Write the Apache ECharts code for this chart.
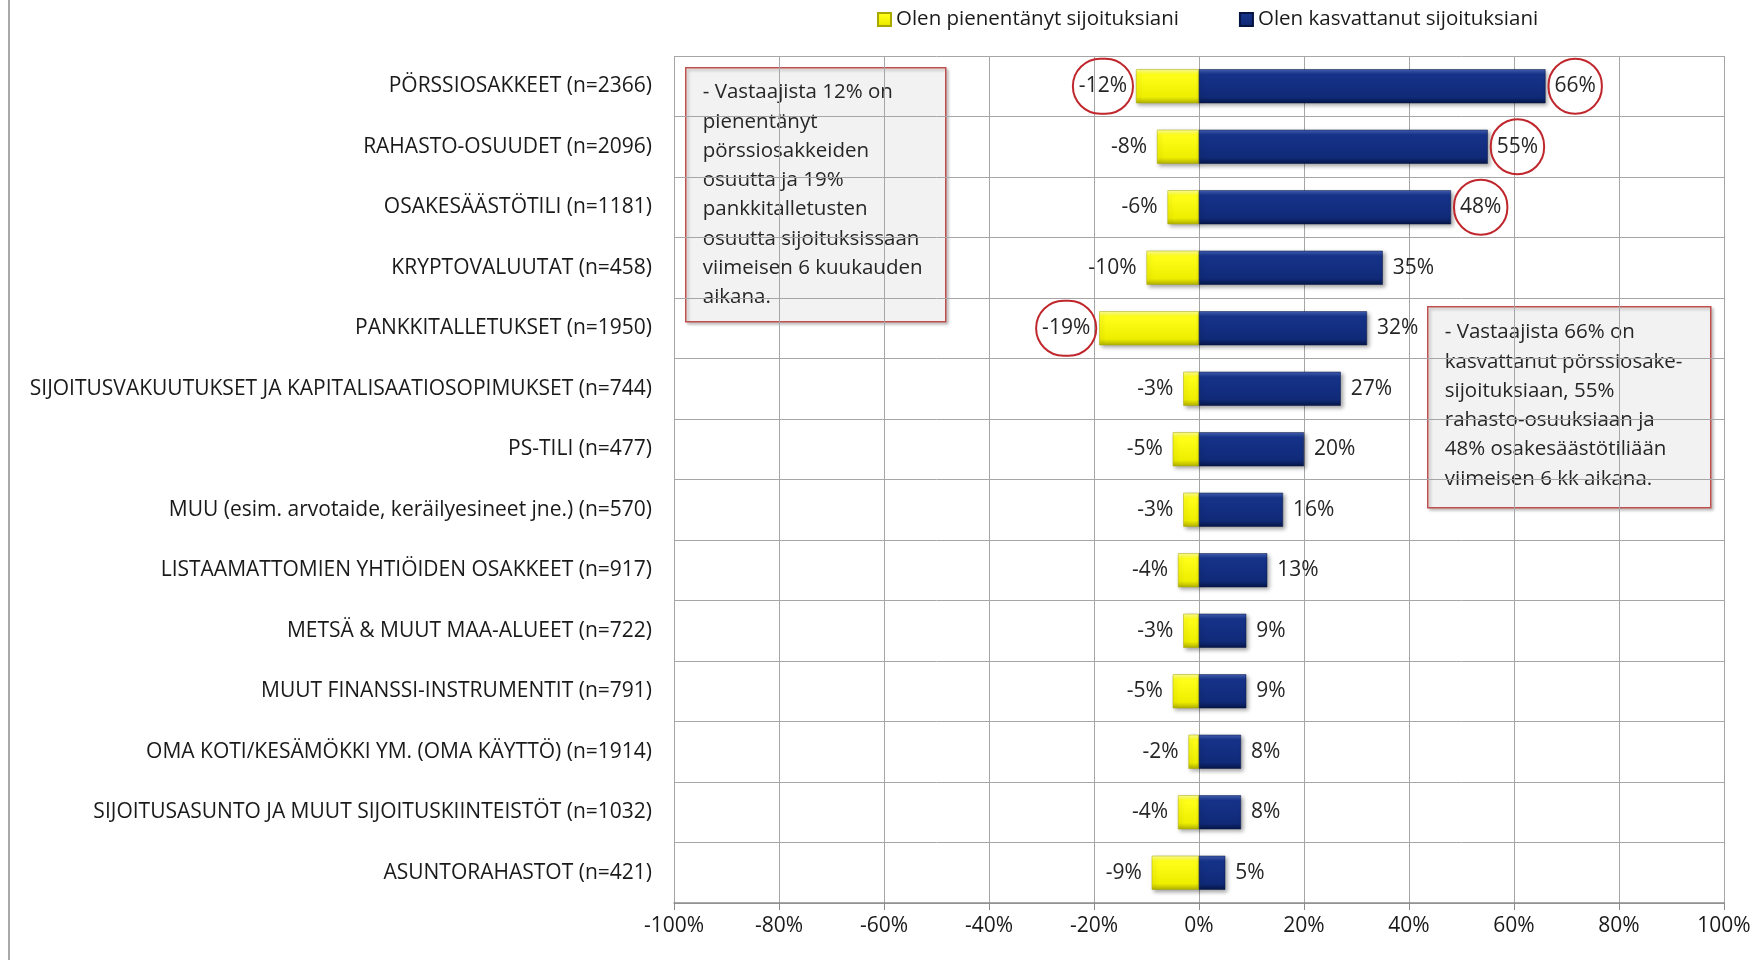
<!DOCTYPE html>
<html>
<head>
<meta charset="utf-8">
<script src="https://cdn.jsdelivr.net/npm/echarts@6/dist/echarts.min.js"></script>
<style>
  html, body { margin: 0; padding: 0; background: #fff; }
  #chart { width: 1758px; height: 960px; }
</style>
</head>
<body>
<div id="chart"></div>
<script>
// kategoriat (ylhäältä alas)
const categories = [
  'PÖRSSIOSAKKEET (n=2366)',
  'RAHASTO-OSUUDET (n=2096)',
  'OSAKESÄÄSTÖTILI (n=1181)',
  'KRYPTOVALUUTAT (n=458)',
  'PANKKITALLETUKSET (n=1950)',
  'SIJOITUSVAKUUTUKSET JA KAPITALISAATIOSOPIMUKSET (n=744)',
  'PS-TILI (n=477)',
  'MUU (esim. arvotaide, keräilyesineet jne.) (n=570)',
  'LISTAAMATTOMIEN YHTIÖIDEN OSAKKEET (n=917)',
  'METSÄ & MUUT MAA-ALUEET (n=722)',
  'MUUT FINANSSI-INSTRUMENTIT (n=791)',
  'OMA KOTI/KESÄMÖKKI YM. (OMA KÄYTTÖ) (n=1914)',
  'SIJOITUSASUNTO JA MUUT SIJOITUSKIINTEISTÖT (n=1032)',
  'ASUNTORAHASTOT (n=421)'
];
const decreased = [-12, -8, -6, -10, -19, -3, -5, -3, -4, -3, -5, -2, -4, -9];
const increased = [66, 55, 48, 35, 32, 27, 20, 16, 13, 9, 9, 8, 8, 5];
// ympyröidyt arvot
const circledDecreased = [0, 4];
const circledIncreased = [0, 1, 2];
const seriesNames = ['Olen pienentänyt sijoituksiani', 'Olen kasvattanut sijoituksiani'];
const xTicks = { min: -100, max: 100, step: 20 };

const note1 = '- Vastaajista 12% on\npienentänyt\npörssiosakkeiden\nosuutta ja 19%\npankkitalletusten\nosuutta sijoituksissaan\nviimeisen 6 kuukauden\naikana.';
const note2 = '- Vastaajista 66% on\nkasvattanut pörssiosake-\nsijoituksiaan, 55%\nrahasto-osuuksiaan ja\n48% osakesäästötiliään\nviimeisen 6 kk aikana.';

const FONT = 'Open Sans';

const yellowFill = new echarts.graphic.LinearGradient(0, 0, 0, 1, [
  { offset: 0, color: '#ffff9a' },
  { offset: 0.15, color: '#ffff1a' },
  { offset: 0.82, color: '#eeee00' },
  { offset: 1, color: '#b0b000' }
]);
const blueFill = new echarts.graphic.LinearGradient(0, 0, 0, 1, [
  { offset: 0, color: '#4461b4' },
  { offset: 0.15, color: '#16338a' },
  { offset: 0.82, color: '#102a78' },
  { offset: 1, color: '#061648' }
]);

function circleLabel() {
  return {
    borderColor: '#c0272d',
    borderWidth: 2,
    borderRadius: 40,
    padding: [18, 6, 16, 6],
    distance: 3
  };
}

function buildData(values, circled) {
  return values.map(function (v, i) {
    if (circled.indexOf(i) >= 0) {
      return { value: v, label: circleLabel() };
    }
    return v;
  });
}

const chart = echarts.init(document.getElementById('chart'));

const option = {
  backgroundColor: '#fff',
  animation: false,
  textStyle: { fontFamily: FONT },
  legend: {
    top: 4,
    left: 872,
    itemWidth: 13,
    itemHeight: 13,
    itemGap: 60,
    textStyle: { fontFamily: FONT, fontSize: 20.5, color: '#1a1a1a' },
    data: [
      { name: seriesNames[0], icon: 'rect' },
      { name: seriesNames[1], icon: 'rect' }
    ]
  },
  grid: { left: 674, right: 34, top: 56, bottom: 57 },
  xAxis: {
    type: 'value',
    min: xTicks.min,
    max: xTicks.max,
    interval: xTicks.step,
    axisLine: { show: true, lineStyle: { color: '#8c8c8c', width: 1.5 } },
    axisTick: { show: true, length: 7, lineStyle: { color: '#8c8c8c' } },
    axisLabel: {
      formatter: '{value}%',
      fontFamily: FONT,
      fontSize: 21,
      color: '#1a1a1a',
      margin: 13
    },
    splitLine: { show: true, lineStyle: { color: '#a6a6a6' } }
  },
  yAxis: {
    type: 'category',
    inverse: true,
    data: categories,
    axisLine: { show: false, onZero: false },
    axisTick: { show: false },
    axisLabel: {
      fontFamily: FONT,
      fontSize: 21,
      color: '#1a1a1a',
      margin: 22
    },
    splitLine: { show: true, lineStyle: { color: '#a6a6a6' } }
  },
  series: [{
    name: seriesNames[0],
    type: 'bar',
    barWidth: 34,
    barGap: '-100%',
    itemStyle: {
      color: yellowFill,
      borderColor: '#a8a800',
      borderWidth: 0.5,
      shadowColor: 'rgba(0,0,0,0.35)',
      shadowBlur: 4,
      shadowOffsetX: 2,
      shadowOffsetY: 2
    },
    label: {
      show: true,
      position: 'left',
      distance: 10,
      formatter: '{c}%',
      fontFamily: FONT,
      fontSize: 21,
      color: '#262626'
    },
    data: buildData(decreased, circledDecreased)
  }, {
    name: seriesNames[1],
    type: 'bar',
    barWidth: 34,
    itemStyle: {
      color: blueFill,
      borderColor: '#061442',
      borderWidth: 0.5,
      shadowColor: 'rgba(0,0,0,0.35)',
      shadowBlur: 4,
      shadowOffsetX: 2,
      shadowOffsetY: 2
    },
    label: {
      show: true,
      position: 'right',
      distance: 10,
      formatter: '{c}%',
      fontFamily: FONT,
      fontSize: 21,
      color: '#262626'
    },
    data: buildData(increased, circledIncreased)
  }],
  graphic: [
    {
      type: 'line',
      shape: { x1: 9, y1: 0, x2: 9, y2: 960 },
      style: { stroke: '#8c8c8c', lineWidth: 1.5 },
      silent: true
    },
    {
      type: 'group',
      left: 685,
      top: 67,
      children: [
        {
          type: 'rect',
          shape: { x: 0, y: 0, width: 260, height: 254 },
          style: {
            fill: '#f2f2f2', stroke: '#c0504d', lineWidth: 1.5,
            shadowColor: 'rgba(0,0,0,0.25)', shadowBlur: 3, shadowOffsetX: 2, shadowOffsetY: 2
          }
        },
        {
          type: 'text',
          x: 17,
          y: 10,
          style: {
            text: note1,
            fontFamily: FONT,
            fontSize: 20.5,
            lineHeight: 29.3,
            fill: '#262626'
          }
        }
      ]
    },
    {
      type: 'group',
      left: 1427,
      top: 306,
      children: [
        {
          type: 'rect',
          shape: { x: 0, y: 0, width: 283, height: 201 },
          style: {
            fill: '#f2f2f2', stroke: '#c0504d', lineWidth: 1.5,
            shadowColor: 'rgba(0,0,0,0.25)', shadowBlur: 3, shadowOffsetX: 2, shadowOffsetY: 2
          }
        },
        {
          type: 'text',
          x: 17,
          y: 11,
          style: {
            text: note2,
            fontFamily: FONT,
            fontSize: 20.5,
            lineHeight: 29.3,
            fill: '#262626'
          }
        }
      ]
    }
  ]
};

chart.setOption(option);
</script>
</body>
</html>
